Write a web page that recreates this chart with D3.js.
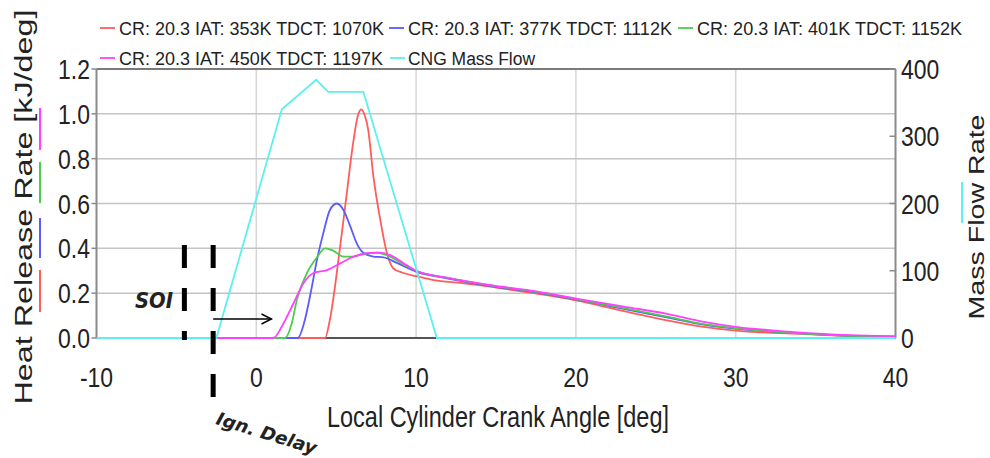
<!DOCTYPE html>
<html>
<head>
<meta charset="utf-8">
<script src="https://cdn.jsdelivr.net/npm/d3@7"></script>
<style>
  body { margin: 0; background: #fff; }
  text { font-family: "Liberation Sans", Arial, sans-serif; fill: #222; }
</style>
</head>
<body>
<div id="chart"></div>
<script>
// heat release rate curves [crank angle deg, kJ/deg]
const hrr353 = [[-10,0],[4.3,0],[4.6,0.08],[5.25,0.41],[5.67,0.65],[6.06,0.87],[6.35,0.99],[6.57,1.02],[6.8,0.99],[7.0,0.93],[7.33,0.72],[7.75,0.53],[8.17,0.38],[8.58,0.31],[9.2,0.29],[10,0.276],[11.1,0.258],[12.9,0.245],[15,0.225],[17.1,0.203],[20,0.168],[23,0.12],[25.7,0.079],[28,0.05],[30,0.033],[34,0.018],[38,0.006],[40,0.002]];
const hrr377 = [[-10,0],[2.6,0],[3.0,0.07],[3.4,0.2],[3.8,0.35],[4.2,0.47],[4.6,0.57],[5.04,0.60],[5.46,0.57],[5.87,0.50],[6.3,0.42],[6.7,0.38],[7.33,0.363],[7.96,0.36],[8.8,0.335],[10,0.296],[12,0.265],[15,0.228],[17.1,0.208],[20,0.172],[23,0.13],[25.7,0.092],[28,0.06],[30,0.042],[33,0.025],[36,0.013],[40,0.005]];
const hrr401 = [[-10,0],[1.8,0],[2.2,0.06],[2.54,0.17],[3.17,0.29],[3.8,0.36],[4.3,0.40],[4.8,0.39],[5.46,0.363],[6.08,0.363],[6.7,0.375],[7.54,0.381],[8.38,0.363],[9.2,0.33],[10,0.30],[12,0.268],[15,0.23],[17.1,0.21],[20,0.174],[23,0.133],[25.7,0.095],[28,0.062],[30,0.044],[33,0.025],[36,0.013],[40,0.005]];
const hrr450 = [[-10,0],[1.06,0],[1.7,0.065],[2.33,0.155],[2.96,0.245],[3.58,0.29],[4.42,0.303],[5.25,0.333],[6.08,0.363],[6.92,0.378],[7.75,0.381],[8.38,0.37],[9.2,0.335],[10,0.30],[12,0.268],[15,0.232],[17.1,0.212],[20,0.176],[23,0.14],[25.7,0.108],[28,0.072],[30,0.05],[33,0.03],[36,0.016],[40,0.008]];
// CNG mass flow (right axis)
const massFlow = [[-10,0],[-2.5,0],[1.6,340],[3.75,384],[4.5,366],[6.7,366],[11.3,0],[40,0]];

const legendLabels = [
  "CR: 20.3 IAT: 353K TDCT: 1070K",
  "CR: 20.3 IAT: 377K TDCT: 1112K",
  "CR: 20.3 IAT: 401K TDCT: 1152K",
  "CR: 20.3 IAT: 450K TDCT: 1197K",
  "CNG Mass Flow"
];
const xTicks = [-10, 0, 10, 20, 30, 40];
const yTicks = [0, 0.2, 0.4, 0.6, 0.8, 1.0, 1.2];
const yRightTicks = [0, 100, 200, 300, 400];

// annotation points (crank angle)
const soiAngle = -4.5;
const ignAngle = -2.7;
const arrowEnd = 0.95;

const width = 990, height = 458;
const svg = d3.select("#chart").append("svg")
  .attr("width", width).attr("height", height);

const x = d3.scaleLinear().domain([-10, 40]).range([96.5, 895.5]);
const y = d3.scaleLinear().domain([0, 1.2]).range([338, 69]);
const yR = d3.scaleLinear().domain([0, 400]).range([338, 69]);

// grid
svg.append("g").selectAll("line")
  .data(xTicks.filter(d => d > -10 && d < 40))
  .enter().append("line")
  .attr("x1", d => x(d)).attr("x2", d => x(d))
  .attr("y1", y(1.2)).attr("y2", y(0))
  .attr("stroke", "#d6d6d6").attr("stroke-width", 1.5);

svg.append("g").selectAll("line")
  .data(yTicks.filter(d => d > 0 && d < 1.2))
  .enter().append("line")
  .attr("x1", x(-10)).attr("x2", x(40))
  .attr("y1", d => y(d)).attr("y2", d => y(d))
  .attr("stroke", "#c4c4c4").attr("stroke-width", 1.5);

// frame
svg.append("line").attr("x1", x(-10)).attr("x2", x(40)).attr("y1", y(1.2)).attr("y2", y(1.2))
  .attr("stroke", "#7a7a7a").attr("stroke-width", 2);
svg.append("line").attr("x1", x(-10)).attr("x2", x(-10)).attr("y1", y(1.2)).attr("y2", y(0))
  .attr("stroke", "#8a8a8a").attr("stroke-width", 2);
svg.append("line").attr("x1", x(40)).attr("x2", x(40)).attr("y1", y(1.2)).attr("y2", y(0))
  .attr("stroke", "#8a8a8a").attr("stroke-width", 2);
svg.append("line").attr("x1", x(-10)).attr("x2", x(40)).attr("y1", y(0)).attr("y2", y(0))
  .attr("stroke", "#555").attr("stroke-width", 2);

// ticks marks
svg.append("g").selectAll("line").data(yTicks).enter().append("line")
  .attr("x1", x(-10) - 5).attr("x2", x(-10))
  .attr("y1", d => y(d)).attr("y2", d => y(d))
  .attr("stroke", "#8a8a8a").attr("stroke-width", 1.5);
svg.append("g").selectAll("line").data(yRightTicks).enter().append("line")
  .attr("x1", x(40) - 6).attr("x2", x(40))
  .attr("y1", d => yR(d)).attr("y2", d => yR(d))
  .attr("stroke", "#8a8a8a").attr("stroke-width", 1.5);

// narrow, tall labels like the stretched original
function label(px, py, str, size, sx, anchor) {
  return svg.append("text")
    .attr("transform", `translate(${px},${py}) scale(${sx},1)`)
    .attr("text-anchor", anchor)
    .style("font-size", size + "px")
    .text(str);
}

const fmt1 = d3.format(".1f");
yTicks.forEach(d => label(90, y(d) + 10, fmt1(d), 28, 0.82, "end"));
yRightTicks.forEach(d => label(901, yR(d) + 10, d, 28, 0.82, "start"));
xTicks.forEach(d => label(x(d), 387, d, 28, 0.82, "middle"));

// curves
const line = d3.line().x(d => x(d[0])).y(d => y(d[1])).curve(d3.curveMonotoneX);
const lineR = d3.line().x(d => x(d[0])).y(d => yR(d[1]));

const series = [
  { data: hrr353, color: "#ff5c5c" },
  { data: hrr377, color: "#5a5aff" },
  { data: hrr401, color: "#4ccc4c" },
  { data: hrr450, color: "#ff40ff" }
];
series.forEach(s => {
  svg.append("path").datum(s.data)
    .attr("d", line)
    .attr("fill", "none")
    .attr("stroke", s.color)
    .attr("stroke-width", 1.8);
});
svg.append("path").datum(massFlow)
  .attr("d", lineR)
  .attr("fill", "none")
  .attr("stroke", "#5cf0f0")
  .attr("stroke-width", 1.8);

// legend
const legendColors = ["#ff5c5c", "#5a5aff", "#4ccc4c", "#ff40ff", "#5cf0f0"];
const legendPos = [
  { sx: 100, tx: 119, len: 265, base: 35 },
  { sx: 389, tx: 408, len: 264, base: 35 },
  { sx: 678, tx: 697, len: 265, base: 35 },
  { sx: 100, tx: 119, len: 264, base: 65 },
  { sx: 390, tx: 408, len: 127, base: 65 }
];
legendLabels.forEach((t, i) => {
  const p = legendPos[i];
  svg.append("line")
    .attr("x1", p.sx).attr("x2", p.sx + 15)
    .attr("y1", p.base - 7).attr("y2", p.base - 7)
    .attr("stroke", legendColors[i]).attr("stroke-width", 1.8);
  svg.append("text")
    .attr("x", p.tx).attr("y", p.base)
    .attr("textLength", p.len).attr("lengthAdjust", "spacingAndGlyphs")
    .style("font-size", "18px")
    .text(t);
});

// axis titles
svg.append("text")
  .attr("transform", "translate(32,207) rotate(-90)")
  .attr("text-anchor", "middle")
  .attr("textLength", 395).attr("lengthAdjust", "spacingAndGlyphs")
  .style("font-size", "23px")
  .text("Heat Release Rate [kJ/deg]");

svg.append("text")
  .attr("transform", "translate(984,217) rotate(-90)")
  .attr("text-anchor", "middle")
  .attr("textLength", 205).attr("lengthAdjust", "spacingAndGlyphs")
  .style("font-size", "22px")
  .text("Mass Flow Rate");

svg.append("text")
  .attr("x", 498).attr("y", 427)
  .attr("text-anchor", "middle")
  .attr("textLength", 342).attr("lengthAdjust", "spacingAndGlyphs")
  .style("font-size", "29px")
  .text("Local Cylinder Crank Angle [deg]");

// little colour keys beside the axis titles
const leftKeys = [[108, 150, "#ff40ff"], [162, 203, "#4ccc4c"], [218, 258, "#5a5aff"], [270, 312, "#ff5c5c"]];
leftKeys.forEach(k => {
  svg.append("line").attr("x1", 40).attr("x2", 40).attr("y1", k[0]).attr("y2", k[1])
    .attr("stroke", k[2]).attr("stroke-width", 2);
});
svg.append("line").attr("x1", 962).attr("x2", 962).attr("y1", 182).attr("y2", 223)
  .attr("stroke", "#5cf0f0").attr("stroke-width", 2);

// annotations
svg.append("line")
  .attr("x1", x(soiAngle)).attr("x2", x(soiAngle))
  .attr("y1", 245).attr("y2", 340)
  .attr("stroke", "#000").attr("stroke-width", 5)
  .attr("stroke-dasharray", "23,20");
svg.append("line")
  .attr("x1", x(ignAngle)).attr("x2", x(ignAngle))
  .attr("y1", 245).attr("y2", 398)
  .attr("stroke", "#000").attr("stroke-width", 5)
  .attr("stroke-dasharray", "23,20");

const arrowY = 319;
svg.append("line")
  .attr("x1", x(ignAngle)).attr("x2", x(arrowEnd))
  .attr("y1", arrowY).attr("y2", arrowY)
  .attr("stroke", "#000").attr("stroke-width", 1.4);
svg.append("path")
  .attr("d", `M${x(arrowEnd) - 10},${arrowY - 5} L${x(arrowEnd)},${arrowY} L${x(arrowEnd) - 10},${arrowY + 5}`)
  .attr("fill", "none").attr("stroke", "#000").attr("stroke-width", 1.4);

svg.append("text")
  .attr("x", 135).attr("y", 308)
  .attr("textLength", 38).attr("lengthAdjust", "spacingAndGlyphs")
  .style("font-family", "'DejaVu Sans', sans-serif")
  .style("font-weight", "bold").style("font-style", "italic")
  .style("font-size", "21px")
  .text("SOI");

svg.append("text")
  .attr("transform", "translate(215,424) rotate(17)")
  .attr("textLength", 104).attr("lengthAdjust", "spacingAndGlyphs")
  .style("font-family", "'DejaVu Sans', sans-serif")
  .style("font-weight", "bold").style("font-style", "italic")
  .style("font-size", "18px")
  .text("Ign. Delay");
</script>
</body>
</html>
